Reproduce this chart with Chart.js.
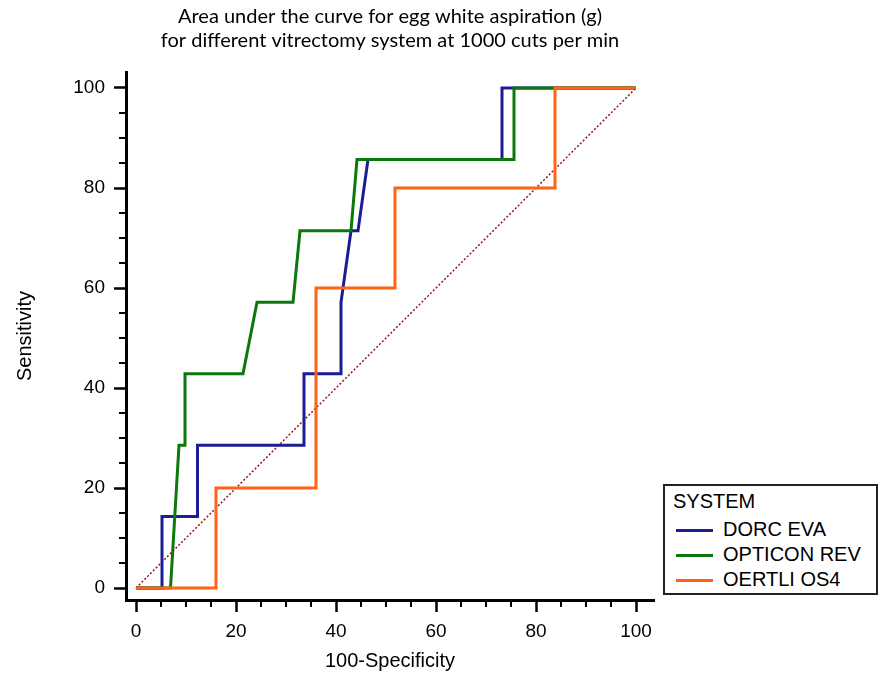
<!DOCTYPE html>
<html>
<head>
<meta charset="utf-8">
<script src="https://cdn.jsdelivr.net/npm/chart.js@4.4.0/dist/chart.umd.min.js"></script>
<style>
    html, body { margin: 0; padding: 0; background: #fff; }
    #wrap { position: relative; width: 881px; height: 675px; }
    #legend {
        position: absolute; left: 663px; top: 484px; width: 215px; height: 111px;
        box-sizing: border-box; border: 2px solid #222; background: #fff;
        font-family: "Liberation Sans", Arial, sans-serif; font-size: 20px; color: #000;
    }
    #legend .head { position: absolute; left: 8px; top: 4px; }
    #legend .row { position: absolute; left: 11px; height: 24px; line-height: 24px; white-space: nowrap; }
    #legend .row span.sw { display: inline-block; width: 37px; height: 3px; vertical-align: middle; margin-right: 10px; }
</style>
</head>
<body>
<div id="wrap">
    <canvas id="roc" width="881" height="675"></canvas>
    <div id="legend"></div>
</div>
<script>
// 100-Specificity / Sensitivity for each system
const dorcX = [0, 5.2, 5.2, 12.3, 12.3, 33.6, 33.6, 41, 41, 43, 44.4, 46.4, 73.2, 73.2, 100];
const dorcY = [0, 0, 14.29, 14.29, 28.57, 28.57, 42.86, 42.86, 57.14, 71.43, 71.43, 85.71, 85.71, 100, 100];

const opticonX = [0, 6.9, 8.6, 9.8, 9.8, 21.4, 24.2, 31.4, 32.8, 43, 44.2, 75.6, 75.6, 100];
const opticonY = [0, 0, 28.57, 28.57, 42.86, 42.86, 57.14, 57.14, 71.43, 71.43, 85.71, 85.71, 100, 100];

const oertliX = [0, 16, 16, 36, 36, 51.8, 51.8, 83.8, 83.8, 100];
const oertliY = [0, 0, 20, 20, 60, 60, 80, 80, 100, 100];

const diagX = [0, 100];
const diagY = [0, 100];

const systems = ['DORC EVA', 'OPTICON REV', 'OERTLI OS4'];
const colors = ['#1c1c94', '#0b780b', '#ff6316'];

const majorTicks = [0, 20, 40, 60, 80, 100];
const minorTicks = [5, 10, 15, 25, 30, 35, 45, 50, 55, 65, 70, 75, 85, 90, 95];

const titleLines = ['Area under the curve for egg white aspiration (g)', 'for different vitrectomy system at 1000 cuts per min'];

function pts(xs, ys) {
    return xs.map((x, i) => ({ x: x, y: ys[i] }));
}

const tickFont = { family: '"Liberation Sans", Arial, sans-serif', size: 19 };
const axisFont = { family: '"Liberation Sans", Arial, sans-serif', size: 20 };

// small ticks between the labelled ones
const minorTickPlugin = {
    id: 'minorTicks',
    afterDraw(chart) {
        const ctx = chart.ctx;
        const xs = chart.scales.x;
        const ys = chart.scales.y;
        const area = chart.chartArea;
        ctx.save();
        ctx.strokeStyle = '#000';
        ctx.lineWidth = 2;
        minorTicks.forEach(v => {
            const px = xs.getPixelForValue(v);
            ctx.beginPath();
            ctx.moveTo(px, area.bottom);
            ctx.lineTo(px, area.bottom + 7);
            ctx.stroke();
            const py = ys.getPixelForValue(v);
            ctx.beginPath();
            ctx.moveTo(area.left, py);
            ctx.lineTo(area.left - 7, py);
            ctx.stroke();
        });
        ctx.restore();
    }
};

const lineDefaults = { borderWidth: 3, pointRadius: 0, fill: false, tension: 0 };

new Chart(document.getElementById('roc'), {
    type: 'line',
    data: {
        datasets: [
            Object.assign({ label: systems[0], data: pts(dorcX, dorcY), borderColor: colors[0], order: 2 }, lineDefaults),
            Object.assign({ label: systems[1], data: pts(opticonX, opticonY), borderColor: colors[1], order: 1 }, lineDefaults),
            Object.assign({ label: systems[2], data: pts(oertliX, oertliY), borderColor: colors[2], order: 0 }, lineDefaults),
            { label: 'ref', data: pts(diagX, diagY), borderColor: '#8b1a1a', borderWidth: 1.5, borderDash: [2, 2], pointRadius: 0, order: 3 }
        ]
    },
    options: {
        responsive: false,
        animation: false,
        layout: { padding: { left: 0, right: 227, top: 0, bottom: 0 } },
        plugins: {
            legend: { display: false },
            tooltip: { enabled: false },
            title: {
                display: true,
                fullSize: false,
                text: titleLines,
                color: '#000',
                font: { family: 'Lato, "Open Sans", sans-serif', size: 20, weight: 'normal', lineHeight: 1.2 },
                padding: { top: 5, bottom: 19 }
            }
        },
        scales: {
            x: {
                type: 'linear',
                min: -2,
                max: 103.6,
                afterFit(scale) { scale.height = 75; },
                afterBuildTicks(scale) { scale.ticks = majorTicks.map(v => ({ value: v })); },
                grid: { drawOnChartArea: false, drawTicks: true, tickLength: 12, tickWidth: 2.5, tickColor: '#000' },
                border: { display: true, color: '#000', width: 3 },
                ticks: { autoSkip: false, maxRotation: 0, color: '#000', font: tickFont, padding: 8 },
                title: { display: true, text: '100-Specificity', color: '#000', font: axisFont, padding: { top: 0, bottom: 2 } }
            },
            y: {
                type: 'linear',
                min: -2.4,
                max: 103.2,
                afterFit(scale) { scale.width = 126; },
                afterBuildTicks(scale) { scale.ticks = majorTicks.map(v => ({ value: v })); },
                grid: { drawOnChartArea: false, drawTicks: true, tickLength: 12, tickWidth: 2.5, tickColor: '#000' },
                border: { display: true, color: '#000', width: 3 },
                ticks: { autoSkip: false, color: '#000', font: tickFont, padding: 9 },
                title: { display: true, text: 'Sensitivity', color: '#000', font: axisFont, padding: { top: 13, bottom: 0 } }
            }
        }
    },
    plugins: [minorTickPlugin]
});

// legend box
const legend = document.getElementById('legend');
const head = document.createElement('div');
head.className = 'head';
head.textContent = 'SYSTEM';
legend.appendChild(head);
systems.forEach((name, i) => {
    const row = document.createElement('div');
    row.className = 'row';
    row.style.top = (31 + i * 25) + 'px';
    const sw = document.createElement('span');
    sw.className = 'sw';
    sw.style.background = colors[i];
    row.appendChild(sw);
    row.appendChild(document.createTextNode(name));
    legend.appendChild(row);
});
</script>
</body>
</html>
